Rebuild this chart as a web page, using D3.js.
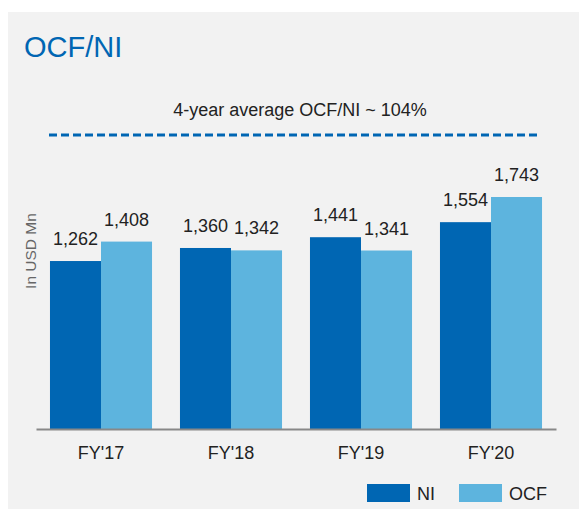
<!DOCTYPE html>
<html>
<head>
<meta charset="utf-8">
<script src="https://cdn.jsdelivr.net/npm/d3@7"></script>
<style>
  html, body { margin: 0; padding: 0; background: #fff; }
  svg { display: block; font-family: "Liberation Sans", Arial, sans-serif; }
</style>
</head>
<body>
<svg id="chart" width="579" height="509"></svg>
<script>
"use strict";

// Data
const years = ["FY'17", "FY'18", "FY'19", "FY'20"];
const seriesNames = ["NI", "OCF"];
const niValues = [1262, 1360, 1441, 1554];
const ocfValues = [1408, 1342, 1341, 1743];
const seriesColors = ["#0066b3", "#5db4de"];

const svg = d3.select("#chart");

// panel background
svg.append("rect")
  .attr("x", 8).attr("y", 12)
  .attr("width", 571).attr("height", 497)
  .attr("fill", "#f2f2f2");

svg.append("text")
  .attr("x", 24).attr("y", 57)
  .attr("font-size", 29)
  .attr("fill", "#0066b3")
  .text("OCF/NI");

svg.append("text")
  .attr("x", 300).attr("y", 116)
  .attr("text-anchor", "middle")
  .attr("font-size", 18)
  .attr("fill", "#222")
  .text("4-year average OCF/NI ~ 104%");

svg.append("line")
  .attr("x1", 49).attr("x2", 538)
  .attr("y1", 135).attr("y2", 135)
  .attr("stroke", "#0066b3")
  .attr("stroke-width", 3)
  .attr("stroke-dasharray", "8,4");

// scales
const x = d3.scaleBand()
  .domain(years)
  .range([36, 556])
  .paddingInner(0.215)
  .paddingOuter(0.1075);

const xs = d3.scaleBand()
  .domain(seriesNames)
  .range([0, x.bandwidth()]);

const y = d3.scaleLinear()
  .domain([0, 2000])
  .range([429, 429 - 2000 * 0.1331]);

const rows = years.map((yr, i) => ({
  year: yr,
  vals: [
    { key: "NI", value: niValues[i] },
    { key: "OCF", value: ocfValues[i] }
  ]
}));

const groups = svg.append("g")
  .selectAll("g")
  .data(rows)
  .enter()
  .append("g")
  .attr("transform", d => "translate(" + x(d.year) + ",0)");

groups.selectAll("rect")
  .data(d => d.vals)
  .enter()
  .append("rect")
  .attr("x", d => xs(d.key))
  .attr("y", d => y(d.value))
  .attr("width", xs.bandwidth())
  .attr("height", d => y(0) - y(d.value))
  .attr("fill", d => seriesColors[seriesNames.indexOf(d.key)]);

groups.selectAll("text")
  .data(d => d.vals)
  .enter()
  .append("text")
  .attr("x", d => xs(d.key) + xs.bandwidth() / 2)
  .attr("y", d => y(d.value) - 16)
  .attr("text-anchor", "middle")
  .attr("font-size", 18)
  .attr("fill", "#222")
  .text(d => d3.format(",")(d.value));

// x axis
const xAxis = svg.append("g")
  .attr("transform", "translate(0," + y(0) + ")")
  .call(d3.axisBottom(x).tickSize(0).tickPadding(17));
xAxis.select(".domain")
  .attr("stroke", "#888")
  .attr("stroke-width", 2);
xAxis.selectAll("text")
  .attr("font-family", "Liberation Sans, Arial, sans-serif")
  .attr("font-size", 18)
  .attr("fill", "#222");

// y label
svg.append("text")
  .attr("transform", "translate(36,251) rotate(-90)")
  .attr("text-anchor", "middle")
  .attr("font-size", 15.5)
  .attr("fill", "#666")
  .text("In USD Mn");

// legend
const legendX = [367, 459];
const legend = svg.append("g")
  .selectAll("g")
  .data(seriesNames)
  .enter()
  .append("g")
  .attr("transform", (d, i) => "translate(" + legendX[i] + ",484)");
legend.append("rect")
  .attr("width", 43).attr("height", 18)
  .attr("fill", (d, i) => seriesColors[i]);
legend.append("text")
  .attr("x", 50).attr("y", 16)
  .attr("font-size", 18)
  .attr("fill", "#222")
  .text(d => d);
</script>
</body>
</html>
